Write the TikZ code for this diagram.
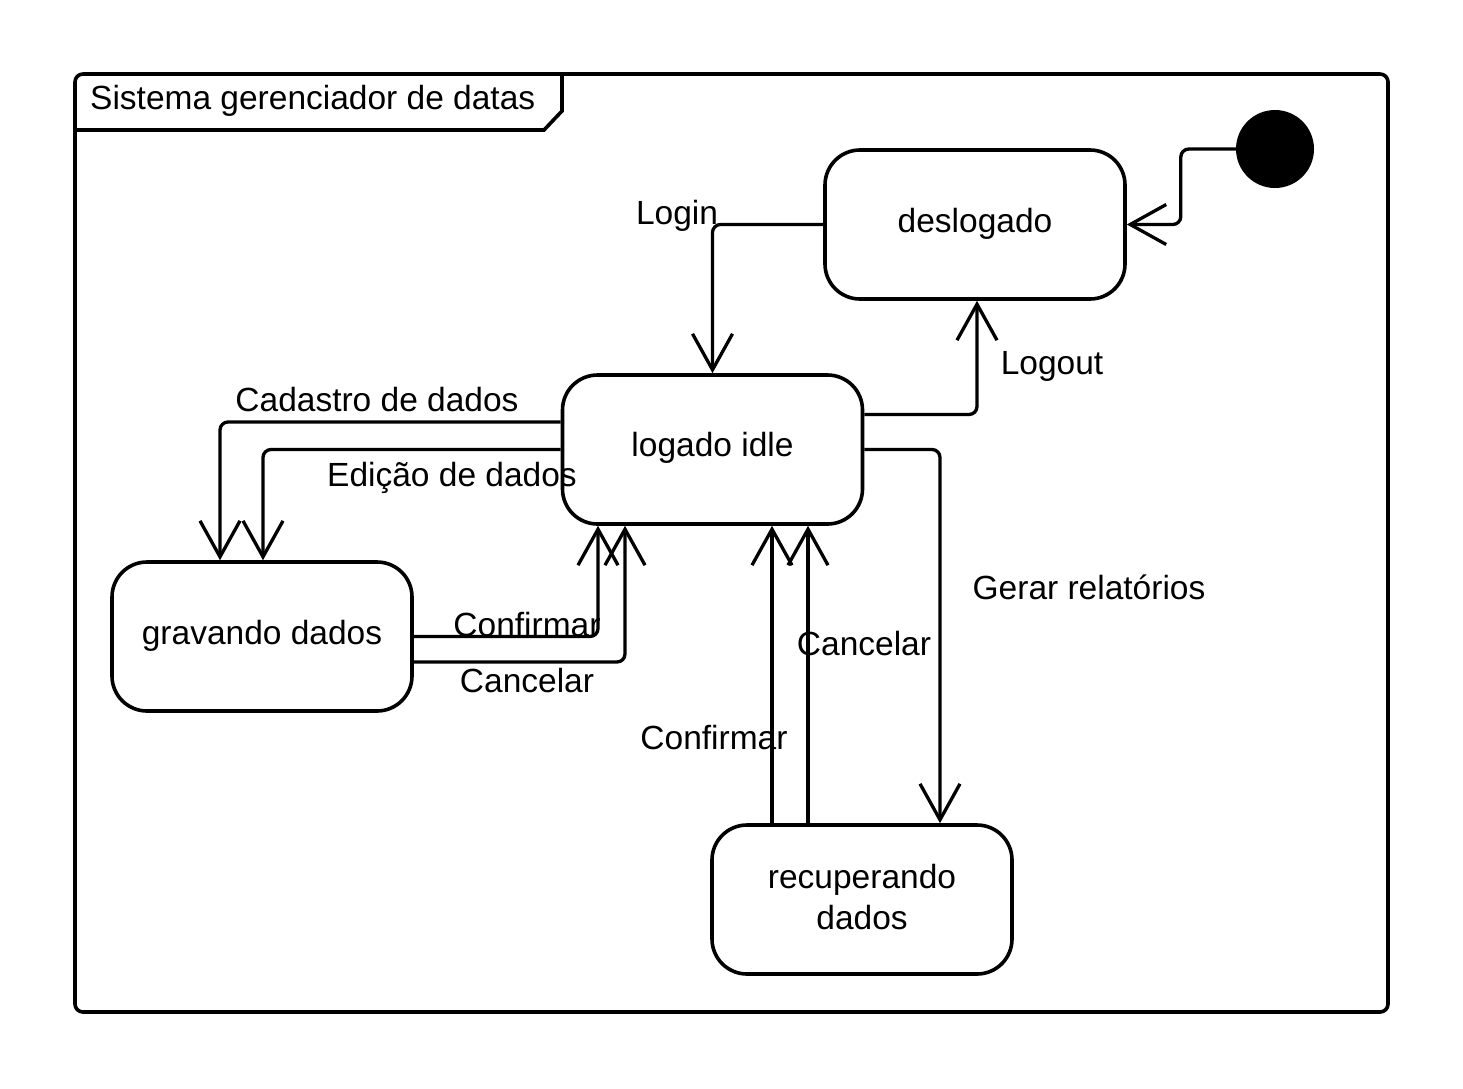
\documentclass[tikz,border=0pt]{standalone}
\usepackage{fontspec}
\setmainfont{Liberation Sans}
\usetikzlibrary{arrows.meta}
\begin{document}
\begin{tikzpicture}[x=1pt,y=-1pt,
  every node/.style={font=\fontsize{33.5}{40}\selectfont, inner sep=0pt},
  state/.style={draw, line width=3.6pt, rounded corners=35pt, minimum width=300pt, minimum height=149pt, align=center},
  trans/.style={draw, line width=3.3pt, rounded corners=8pt, -{Straight Barb[length=36pt,width=40pt,line width=3.3pt]}},
  lbl/.style={anchor=center}]
\useasboundingbox (0,0) rectangle (1463,1088);
% frame
\draw[line width=3.6pt, rounded corners=8pt] (75,74) rectangle (1388,1012);
\draw[line width=3.6pt] (75,130) -- (544,130) -- (562,111) -- (562,74);
\node[anchor=west] (title) at (90,101) {Sistema gerenciador de datas};
% states
\node[circle, fill, minimum size=78pt] (init) at (1275,149) {};
\node[state] (des) at (975,224.5) {};
\node[state] (log) at (712.5,449.5) {};
\node[state] (grav) at (262,636.5) {};
\node[state] (rec) at (862,899.5) {};
\node (tdes) at (975,224) {deslogado};
\node (tlog) at (712.5,448) {logado idle};
\node (tgrav) at (262,636) {gravando dados};
\node[align=center] (trec) at (862,897) {recuperando\\[1pt]dados};
% transitions
\draw[trans] (init.west) -- ++(-55,0) |- (des.east);
\draw[trans] (des.west) -| (log.north);
\draw[trans] ([yshift=35pt]log.east) -| ([xshift=2pt]des.south);
\draw[trans] (log.east) -| ([xshift=78pt]rec.north);
\draw[trans] ([yshift=27.5pt]log.west) -| ([xshift=-42pt]grav.north);
\draw[trans] (log.west) -| ([xshift=1pt]grav.north);
\draw[trans] (grav.east) -| ([xshift=-114.5pt]log.south);
\draw[trans] ([yshift=-25.5pt]grav.east) -| ([xshift=-87.5pt]log.south);
\draw[trans] ([xshift=-90pt]rec.north) -- ([xshift=-90pt]rec.north |- log.south);
\draw[trans] ([xshift=-54pt]rec.north) -- ([xshift=-54pt]rec.north |- log.south);
% labels
\node[lbl] (lLogin) at (677,216) {Login};
\node[lbl] (lLogout) at (1052,366) {Logout};
\node[lbl] (lCad) at (377,400) {Cadastro de dados};
\node[lbl] (lEd) at (452,478) {Edição de dados};
\node[lbl] (lGer) at (1089,587) {Gerar relatórios};
\node[lbl] (lConf1) at (527,625) {Confirmar};
\node[lbl] (lCanc1) at (527,681) {Cancelar};
\node[lbl] (lCanc2) at (864,644) {Cancelar};
\node[lbl] (lConf2) at (714,738) {Confirmar};
\end{tikzpicture}
\end{document}
